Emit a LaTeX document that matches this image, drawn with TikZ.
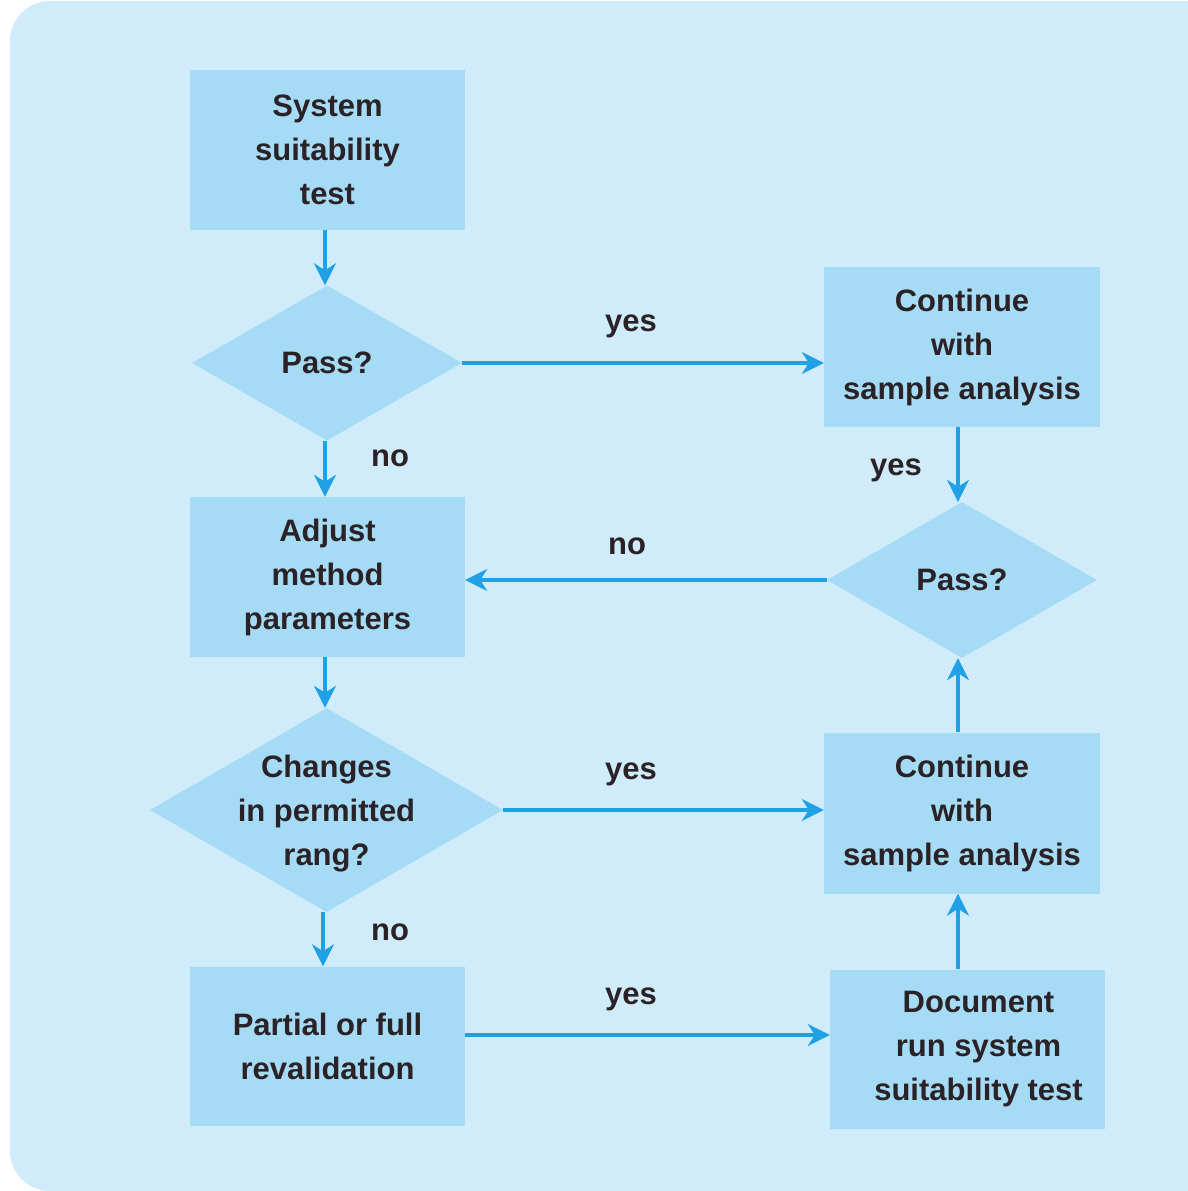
\documentclass[tikz,border=0pt]{standalone}
\usepackage{fontspec}
\setmainfont{Liberation Sans}
\usetikzlibrary{shapes.geometric,arrows.meta}
\definecolor{bgc}{RGB}{208,236,250}
\definecolor{boxc}{RGB}{166,219,245}
\definecolor{arrc}{RGB}{32,161,230}
\definecolor{txtc}{RGB}{42,34,38}
\begin{document}
\begin{tikzpicture}[x=1pt,y=-1pt,
  every node/.style={font=\bfseries\fontsize{31}{44}\selectfont, text=txtc},
  flowbox/.style={rectangle, fill=boxc, minimum width=275, minimum height=160, align=center, inner sep=0},
  decision/.style={diamond, fill=boxc, inner sep=0},
  dlabel/.style={align=center},
  flow/.style={draw=arrc, line width=3.2pt, -{Stealth[length=22pt,width=22pt,inset=7pt]}},
  edgelabel/.style={inner sep=0}
]
\clip (0,0) rectangle (1188,1191);
\useasboundingbox (0,0) rectangle (1188,1191);
\fill[white] (0,0) rectangle (1188,1191);
\fill[bgc, rounded corners=40pt] (10,1) rectangle (1260,1191);

% nodes
\node[flowbox] (sst) at (327.5,150) {System\\suitability\\test};
\node[decision, minimum width=270, minimum height=155,
      label={[dlabel]center:Pass?}] (p1) at (327,363) {};
\node[flowbox, minimum width=276] (c1) at (962,347) {Continue\\with\\sample analysis};
\node[flowbox] (adj) at (327.5,577) {Adjust\\method\\parameters};
\node[decision, minimum width=270, minimum height=156,
      label={[dlabel]center:Pass?}] (p2) at (962,580) {};
\node[decision, minimum width=353, minimum height=204,
      label={[dlabel, yshift=-4pt]center:Changes\\in permitted\\rang?}] (chg) at (326.5,810) {};
\node[flowbox, minimum width=276, minimum height=161] (c2) at (962,813) {Continue\\with\\sample analysis};
\node[flowbox, minimum height=159] (part) at (327.5,1046) {Partial or full\\revalidation};
\node[flowbox, minimum height=159] (doc) at (967.5,1049) {\hspace*{22pt}Document\\\hspace*{22pt}run system\\\hspace*{22pt}suitability test};

% connectors
\draw[flow] (sst.south -| 325,0) -- (p1.north -| 325,0);
\draw[flow] (p1.east) -- (c1.west |- p1.east);
\draw[flow] (p1.south -| 325,0) -- (adj.north -| 325,0);
\draw[flow] (c1.south -| 958,0) -- (p2.north -| 958,0);
\draw[flow] (p2.west) -- (adj.east |- p2.west);
\draw[flow] (adj.south -| 325,0) -- (chg.north -| 325,0);
\draw[flow] (chg.east) -- (c2.west |- chg.east);
\draw[flow] (c2.north -| 958,0) -- (p2.south -| 958,0);
\draw[flow] (chg.south -| 323,0) -- (part.north -| 323,0);
\coordinate (pr) at (part.east |- 0,1035);
\draw[flow] (pr) -- (doc.west |- pr);
\draw[flow] (doc.north -| 958,0) -- (c2.south -| 958,0);

% labels
\node[edgelabel] (l1) at (631,326) {yes};
\node[edgelabel] (l2) at (390,458) {no};
\node[edgelabel] (l3) at (896,470) {yes};
\node[edgelabel] (l4) at (627,546) {no};
\node[edgelabel] (l5) at (631,774) {yes};
\node[edgelabel] (l6) at (390,932) {no};
\node[edgelabel] (l7) at (631,999) {yes};
\end{tikzpicture}
\end{document}
